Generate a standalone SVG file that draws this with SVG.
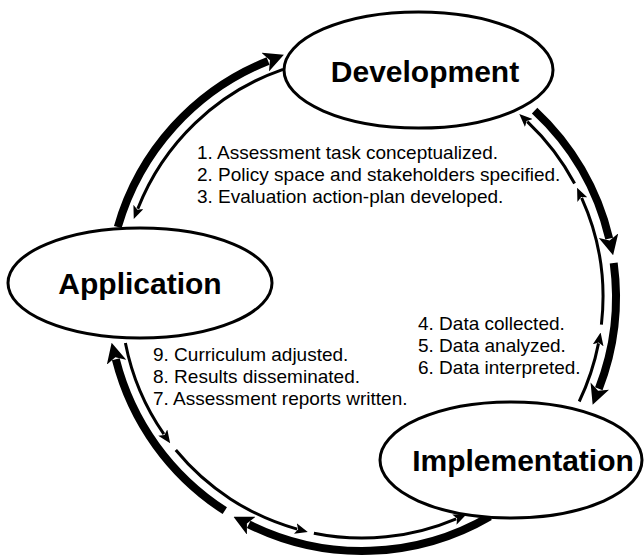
<svg xmlns="http://www.w3.org/2000/svg" width="644" height="555" viewBox="0 0 644 555">
  <style>
    .thick { fill: none; stroke: #000; stroke-width: 8; marker-end: url(#ah); }
    .thin { fill: none; stroke: #000; stroke-width: 3; marker-end: url(#at); }
    .node ellipse { fill: #fff; stroke: #000; stroke-width: 3; }
    .label { font-family: "Liberation Sans", Arial, Helvetica, sans-serif; font-weight: bold; font-size: 30px; text-anchor: middle; fill: #000; }
    .step { font-family: "Liberation Sans", Arial, Helvetica, sans-serif; font-size: 19px; fill: #000; }
  </style>
  <defs>
    <marker id="ah" markerUnits="userSpaceOnUse" viewBox="0 0 20 20" markerWidth="20" markerHeight="20" refX="3" refY="10" orient="auto">
      <path d="M0,0 L20,10 L0,20 L5,10 Z" fill="#000"/>
    </marker>
    <marker id="at" markerUnits="userSpaceOnUse" viewBox="0 0 13 11" markerWidth="13" markerHeight="11" refX="2" refY="5.5" orient="auto">
      <path d="M0,0 L13,5.5 L0,11 L3,5.5 Z" fill="#000"/>
    </marker>
  </defs>
  <rect width="644" height="555" fill="#fff"/>
  <g id="connectors">
    <path class="thick" d="M117.8,227 A254,254 0 0 1 268.1,61.0"/>
    <path class="thick" d="M534.6,110.6 A254,254 0 0 1 609.2,238.6"/>
    <path class="thick" d="M613.7,263.0 A254,254 0 0 1 598.8,388.8"/>
    <path class="thick" d="M489.8,516.5 A254,254 0 0 1 248.7,524.3"/>
    <path class="thick" d="M224.8,510.7 A254,254 0 0 1 115.8,359.3"/>
    <path class="thin" d="M283.1,69.3 A241,241 0 0 0 137.8,208.7"/>
    <path class="thin" d="M125.4,343.0 A241,241 0 0 0 163.9,434.2"/>
    <path class="thin" d="M175.8,450.0 A241,241 0 0 0 297.2,529.1"/>
    <path class="thin" d="M313.9,533.2 A241,241 0 0 0 456.2,518.8"/>
    <path class="thin" d="M579.2,401.5 A241,241 0 0 0 598.5,343.4"/>
    <path class="thin" d="M601.4,324.7 A241,241 0 0 0 581.6,197.8"/>
    <path class="thin" d="M574.6,183.5 A241,241 0 0 0 527.3,121.6"/>
  </g>
  <g id="development" class="node">
    <ellipse cx="418.5" cy="70" rx="134.5" ry="58"/>
    <text class="label" x="425" y="82">Development</text>
  </g>
  <g id="application" class="node">
    <ellipse cx="140" cy="283" rx="132" ry="55"/>
    <text class="label" x="140" y="294">Application</text>
  </g>
  <g id="implementation" class="node">
    <ellipse cx="511" cy="460" rx="131" ry="58"/>
    <text class="label" x="523" y="471">Implementation</text>
  </g>
  <g id="steps-development" class="step">
    <text x="197" y="159">1. Assessment task conceptualized.</text>
    <text x="197" y="181">2. Policy space and stakeholders specified.</text>
    <text x="197" y="203">3. Evaluation action-plan developed.</text>
  </g>
  <g id="steps-implementation" class="step">
    <text x="418" y="330">4. Data collected.</text>
    <text x="418" y="352">5. Data analyzed.</text>
    <text x="418" y="374">6. Data interpreted.</text>
  </g>
  <g id="steps-application" class="step">
    <text x="153" y="361">9. Curriculum adjusted.</text>
    <text x="153" y="383">8. Results disseminated.</text>
    <text x="153" y="405">7. Assessment reports written.</text>
  </g>
</svg>
